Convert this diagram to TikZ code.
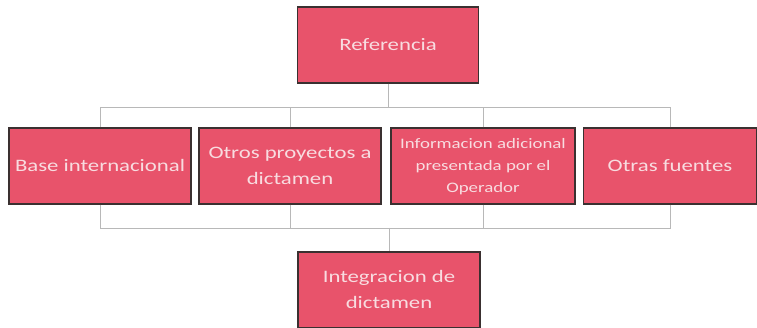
\documentclass[tikz,border=0pt]{standalone}
\usepackage{fontspec}
\setmainfont{Carlito}
\definecolor{boxfill}{HTML}{E8536B}
\definecolor{boxtext}{HTML}{F8DCE0}
\definecolor{boxline}{HTML}{3A3030}
\definecolor{conn}{HTML}{B8B8B8}
\newcommand\widetext[1]{\scalebox{1.3}[1]{\begin{tabular}{@{}c@{}}#1\end{tabular}}}
\tikzset{
  card/.style={draw=boxline, line width=1.2pt, fill=boxfill, text=boxtext,
    minimum height=76pt, inner sep=0pt, align=center,
    font=\fontsize{17.5}{26}\selectfont},
  small/.style={font=\fontsize{14.5}{22}\selectfont},
  link/.style={draw=conn, line width=0.9pt}
}
\begin{document}
\begin{tikzpicture}[x=1pt,y=-1pt]
\useasboundingbox (0,0) rectangle (757,328);
\fill[white] (0,0) rectangle (757,328);
\node[card, minimum width=181pt] (ref) at (388,45) {\widetext{Referencia}};
\node[card, minimum width=182pt] (base) at (100,166) {\widetext{Base internacional}};
\node[card, minimum width=182pt] (otros) at (290,166) {\widetext{Otros proyectos a\\dictamen}};
\node[card, small, minimum width=184pt] (info) at (483,166) {\widetext{Informacion adicional\\presentada por el\\Operador}};
\node[card, minimum width=173pt] (otras) at (670,166) {\widetext{Otras fuentes}};
\node[card, minimum width=182pt] (integ) at (389,290) {\widetext{Integracion de\\dictamen}};
\coordinate (tb) at (388,107);
\coordinate (bb) at (389,228);
\draw[link] (ref.south) -- (tb);
\draw[link] (base.north) |- (tb);
\draw[link] (otros.north) |- (tb);
\draw[link] (info.north) |- (tb);
\draw[link] (otras.north) |- (tb);
\draw[link] (base.south) |- (bb);
\draw[link] (otros.south) |- (bb);
\draw[link] (info.south) |- (bb);
\draw[link] (otras.south) |- (bb);
\draw[link] (bb) -- (integ.north);
\end{tikzpicture}
\end{document}
